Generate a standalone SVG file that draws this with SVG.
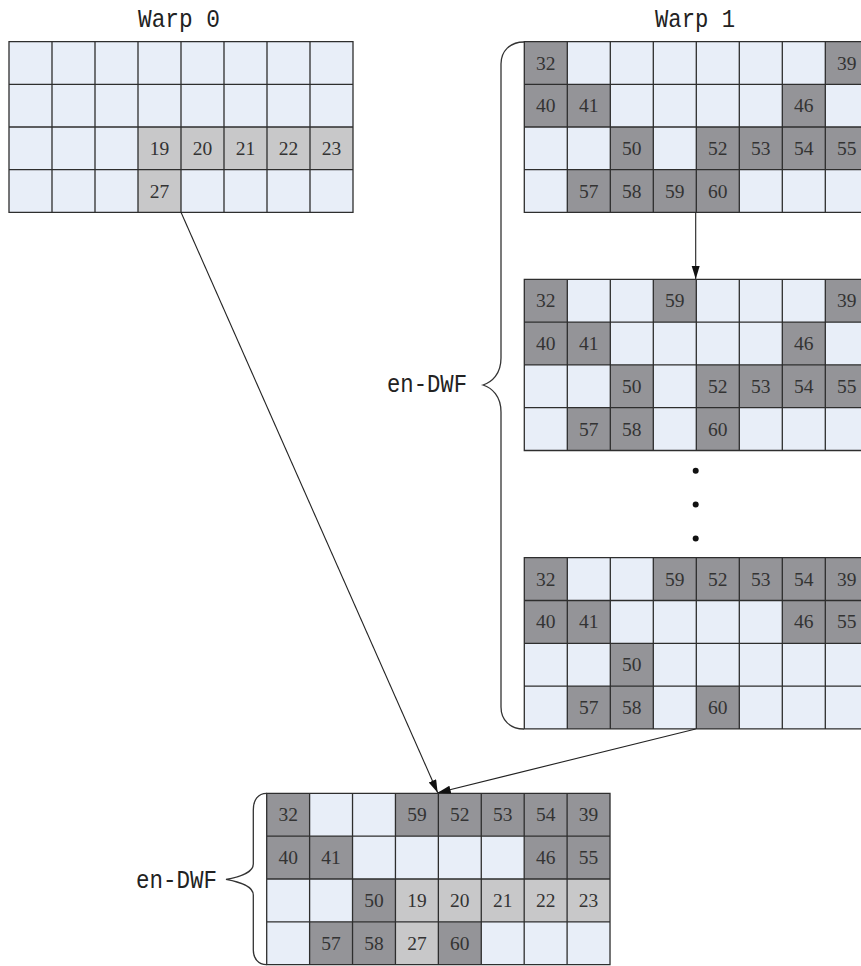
<svg xmlns="http://www.w3.org/2000/svg" xmlns:xlink="http://www.w3.org/1999/xlink" width="861" height="966" viewBox="0 0 861 966">
<style>
.bg{fill:#E8EEF8}
.lg{fill:#C8C8C9}
.dg{fill:#949498}
.gl{fill:none;stroke:#2e2e2e;stroke-width:1.3}
.n{font-family:"Liberation Serif",serif;font-size:19.5px;fill:#333;text-anchor:middle}
.lbl{font-family:"Liberation Mono",monospace;font-size:25px;fill:#222}
.br{fill:none;stroke:#333;stroke-width:1.3}
.cn{fill:none;stroke:#222;stroke-width:1.1}
</style>
<defs>
<path id="gridlines" class="gl" d="M0,0H344V171.2H0Z M43,0V171.2 M86,0V171.2 M129,0V171.2 M172,0V171.2 M215,0V171.2 M258,0V171.2 M301,0V171.2 M0,42.8H344 M0,85.6H344 M0,128.4H344"/>
<rect id="bgr" class="bg" x="0" y="0" width="344" height="171.2"/>
<marker id="ah" markerUnits="userSpaceOnUse" markerWidth="14" markerHeight="10" refX="13" refY="4" orient="auto">
<path d="M0,0 L13,4 L0,8 Z" fill="#111"/>
</marker>
</defs>

<text class="lbl" x="138" y="27" textLength="82" lengthAdjust="spacingAndGlyphs">Warp 0</text>
<text class="lbl" x="655" y="27" textLength="80" lengthAdjust="spacingAndGlyphs">Warp 1</text>

<g id="warp0" transform="translate(9,41.7) scale(1,0.9965)">
<use xlink:href="#bgr"/>
<rect class="lg" x="129" y="85.6" width="43" height="42.8"/>
<rect class="lg" x="172" y="85.6" width="43" height="42.8"/>
<rect class="lg" x="215" y="85.6" width="43" height="42.8"/>
<rect class="lg" x="258" y="85.6" width="43" height="42.8"/>
<rect class="lg" x="301" y="85.6" width="43" height="42.8"/>
<rect class="lg" x="129" y="128.4" width="43" height="42.8"/>
<use xlink:href="#gridlines"/>
<text class="n" x="150.5" y="113.6">19</text>
<text class="n" x="193.5" y="113.6">20</text>
<text class="n" x="236.5" y="113.6">21</text>
<text class="n" x="279.5" y="113.6">22</text>
<text class="n" x="322.5" y="113.6">23</text>
<text class="n" x="150.5" y="156.4">27</text>
</g>

<g id="warp1-a" transform="translate(524.3,41.7) scale(1,0.9965)">
<use xlink:href="#bgr"/>
<rect class="dg" x="0" y="0" width="43" height="42.8"/>
<rect class="dg" x="301" y="0" width="43" height="42.8"/>
<rect class="dg" x="0" y="42.8" width="43" height="42.8"/>
<rect class="dg" x="43" y="42.8" width="43" height="42.8"/>
<rect class="dg" x="258" y="42.8" width="43" height="42.8"/>
<rect class="dg" x="86" y="85.6" width="43" height="42.8"/>
<rect class="dg" x="172" y="85.6" width="172" height="42.8"/>
<rect class="dg" x="43" y="128.4" width="172" height="42.8"/>
<use xlink:href="#gridlines"/>
<text class="n" x="21.5" y="28">32</text>
<text class="n" x="322.5" y="28">39</text>
<text class="n" x="21.5" y="70.8">40</text>
<text class="n" x="64.5" y="70.8">41</text>
<text class="n" x="279.5" y="70.8">46</text>
<text class="n" x="107.5" y="113.6">50</text>
<text class="n" x="193.5" y="113.6">52</text>
<text class="n" x="236.5" y="113.6">53</text>
<text class="n" x="279.5" y="113.6">54</text>
<text class="n" x="322.5" y="113.6">55</text>
<text class="n" x="64.5" y="156.4">57</text>
<text class="n" x="107.5" y="156.4">58</text>
<text class="n" x="150.5" y="156.4">59</text>
<text class="n" x="193.5" y="156.4">60</text>
</g>

<g id="warp1-b" transform="translate(524.3,279.3)">
<use xlink:href="#bgr"/>
<rect class="dg" x="0" y="0" width="43" height="42.8"/>
<rect class="dg" x="129" y="0" width="43" height="42.8"/>
<rect class="dg" x="301" y="0" width="43" height="42.8"/>
<rect class="dg" x="0" y="42.8" width="86" height="42.8"/>
<rect class="dg" x="258" y="42.8" width="43" height="42.8"/>
<rect class="dg" x="86" y="85.6" width="43" height="42.8"/>
<rect class="dg" x="172" y="85.6" width="172" height="42.8"/>
<rect class="dg" x="43" y="128.4" width="86" height="42.8"/>
<rect class="dg" x="172" y="128.4" width="43" height="42.8"/>
<use xlink:href="#gridlines"/>
<text class="n" x="21.5" y="28">32</text>
<text class="n" x="150.5" y="28">59</text>
<text class="n" x="322.5" y="28">39</text>
<text class="n" x="21.5" y="70.8">40</text>
<text class="n" x="64.5" y="70.8">41</text>
<text class="n" x="279.5" y="70.8">46</text>
<text class="n" x="107.5" y="113.6">50</text>
<text class="n" x="193.5" y="113.6">52</text>
<text class="n" x="236.5" y="113.6">53</text>
<text class="n" x="279.5" y="113.6">54</text>
<text class="n" x="322.5" y="113.6">55</text>
<text class="n" x="64.5" y="156.4">57</text>
<text class="n" x="107.5" y="156.4">58</text>
<text class="n" x="193.5" y="156.4">60</text>
</g>

<g id="dots" fill="#111">
<circle cx="695.7" cy="470.7" r="3"/>
<circle cx="695.7" cy="504.5" r="3"/>
<circle cx="695.7" cy="538.5" r="3"/>
</g>

<g id="warp1-c" transform="translate(524.3,557.7)">
<use xlink:href="#bgr"/>
<rect class="dg" x="0" y="0" width="43" height="42.8"/>
<rect class="dg" x="129" y="0" width="215" height="42.8"/>
<rect class="dg" x="0" y="42.8" width="86" height="42.8"/>
<rect class="dg" x="258" y="42.8" width="86" height="42.8"/>
<rect class="dg" x="86" y="85.6" width="43" height="42.8"/>
<rect class="dg" x="43" y="128.4" width="86" height="42.8"/>
<rect class="dg" x="172" y="128.4" width="43" height="42.8"/>
<use xlink:href="#gridlines"/>
<text class="n" x="21.5" y="28">32</text>
<text class="n" x="150.5" y="28">59</text>
<text class="n" x="193.5" y="28">52</text>
<text class="n" x="236.5" y="28">53</text>
<text class="n" x="279.5" y="28">54</text>
<text class="n" x="322.5" y="28">39</text>
<text class="n" x="21.5" y="70.8">40</text>
<text class="n" x="64.5" y="70.8">41</text>
<text class="n" x="279.5" y="70.8">46</text>
<text class="n" x="322.5" y="70.8">55</text>
<text class="n" x="107.5" y="113.6">50</text>
<text class="n" x="64.5" y="156.4">57</text>
<text class="n" x="107.5" y="156.4">58</text>
<text class="n" x="193.5" y="156.4">60</text>
</g>

<g id="brace-warp1">
<path class="br" d="M524,42 C510,42 501,51 501,64 V358 C501,374 492,382 483,385 C492,388 501,396 501,412 V707 C501,720 510,729 524,729"/>
<text class="lbl" x="387" y="392" textLength="80" lengthAdjust="spacingAndGlyphs">en-DWF</text>
</g>

<g id="result" transform="translate(266.7,793.3) scale(0.998,1.001)">
<use xlink:href="#bgr"/>
<rect class="dg" x="0" y="0" width="43" height="42.8"/>
<rect class="dg" x="129" y="0" width="215" height="42.8"/>
<rect class="dg" x="0" y="42.8" width="86" height="42.8"/>
<rect class="dg" x="258" y="42.8" width="86" height="42.8"/>
<rect class="dg" x="86" y="85.6" width="43" height="42.8"/>
<rect class="lg" x="129" y="85.6" width="215" height="42.8"/>
<rect class="dg" x="43" y="128.4" width="86" height="42.8"/>
<rect class="lg" x="129" y="128.4" width="43" height="42.8"/>
<rect class="dg" x="172" y="128.4" width="43" height="42.8"/>
<use xlink:href="#gridlines"/>
<text class="n" x="21.5" y="28">32</text>
<text class="n" x="150.5" y="28">59</text>
<text class="n" x="193.5" y="28">52</text>
<text class="n" x="236.5" y="28">53</text>
<text class="n" x="279.5" y="28">54</text>
<text class="n" x="322.5" y="28">39</text>
<text class="n" x="21.5" y="70.8">40</text>
<text class="n" x="64.5" y="70.8">41</text>
<text class="n" x="279.5" y="70.8">46</text>
<text class="n" x="322.5" y="70.8">55</text>
<text class="n" x="107.5" y="113.6">50</text>
<text class="n" x="150.5" y="113.6">19</text>
<text class="n" x="193.5" y="113.6">20</text>
<text class="n" x="236.5" y="113.6">21</text>
<text class="n" x="279.5" y="113.6">22</text>
<text class="n" x="322.5" y="113.6">23</text>
<text class="n" x="64.5" y="156.4">57</text>
<text class="n" x="107.5" y="156.4">58</text>
<text class="n" x="150.5" y="156.4">27</text>
<text class="n" x="193.5" y="156.4">60</text>
</g>

<g id="brace-result">
<path class="br" d="M266.7,793.3 C258,793.3 253.3,800 253.3,810 V864 C253.3,872 240,877 226,879.3 C240,882 253.3,886 253.3,895 V950 C253.3,958 258,964.7 266.7,964.7"/>
<text class="lbl" x="136" y="888" textLength="81" lengthAdjust="spacingAndGlyphs">en-DWF</text>
</g>

<g id="connectors">
<path class="cn" d="M695.7,212.3 V279" marker-end="url(#ah)"/>
<path class="cn" d="M181,212.3 L437.7,792.7" marker-end="url(#ah)"/>
<path class="cn" d="M695.7,729 L437.7,792.7" marker-end="url(#ah)"/>
</g>
</svg>
